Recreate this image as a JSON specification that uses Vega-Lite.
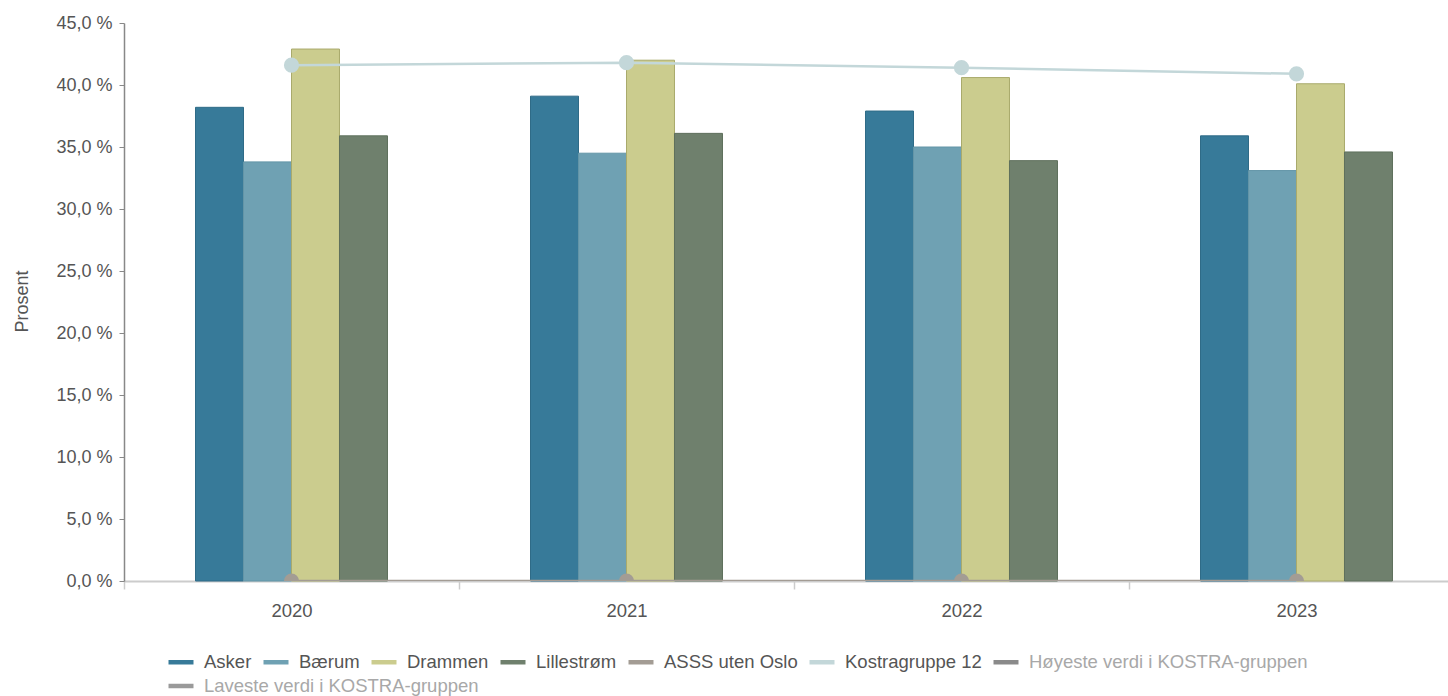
{
  "$schema": "https://vega.github.io/schema/vega-lite/v6.json",
  "autosize": {"type": "none"},
  "padding": {"left": 124, "top": 23, "right": 0, "bottom": 115},
  "width": 1324,
  "height": 558,
  "config": {
    "view": {"stroke": null},
    "font": "Liberation Sans",
    "axis": {"labelFont": "Liberation Sans", "titleFont": "Liberation Sans", "grid": false},
    "legend": {"labelFont": "Liberation Sans"}
  },
  "data": {
    "values": [
      {"year": "2020", "series": "Asker", "value": 38.2},
      {"year": "2020", "series": "Bærum", "value": 33.8},
      {"year": "2020", "series": "Drammen", "value": 42.9},
      {"year": "2020", "series": "Lillestrøm", "value": 35.9},
      {"year": "2020", "series": "ASSS uten Oslo", "value": 0},
      {"year": "2020", "series": "Kostragruppe 12", "value": 41.6},
      {"year": "2021", "series": "Asker", "value": 39.1},
      {"year": "2021", "series": "Bærum", "value": 34.5},
      {"year": "2021", "series": "Drammen", "value": 42.0},
      {"year": "2021", "series": "Lillestrøm", "value": 36.1},
      {"year": "2021", "series": "ASSS uten Oslo", "value": 0},
      {"year": "2021", "series": "Kostragruppe 12", "value": 41.8},
      {"year": "2022", "series": "Asker", "value": 37.9},
      {"year": "2022", "series": "Bærum", "value": 35.0},
      {"year": "2022", "series": "Drammen", "value": 40.6},
      {"year": "2022", "series": "Lillestrøm", "value": 33.9},
      {"year": "2022", "series": "ASSS uten Oslo", "value": 0},
      {"year": "2022", "series": "Kostragruppe 12", "value": 41.4},
      {"year": "2023", "series": "Asker", "value": 35.9},
      {"year": "2023", "series": "Bærum", "value": 33.1},
      {"year": "2023", "series": "Drammen", "value": 40.1},
      {"year": "2023", "series": "Lillestrøm", "value": 34.6},
      {"year": "2023", "series": "ASSS uten Oslo", "value": 0},
      {"year": "2023", "series": "Kostragruppe 12", "value": 40.9}
    ]
  },
  "encoding": {
    "x": {
      "field": "year",
      "type": "nominal",
      "scale": {"range": [0, 1340], "paddingInner": 0.4269, "paddingOuter": 0.21345},
      "axis": {
        "title": null,
        "labelAngle": 0,
        "labelFontSize": 18.5,
        "labelColor": "#555555",
        "labelPadding": 12,
        "domainColor": "#cccccc",
        "domainWidth": 2,
        "tickColor": "#cccccc",
        "tickWidth": 1.5,
        "tickSize": 8,
        "tickOffset": -167.5,
        "labelOffset": 167.5
      }
    },
    "y": {
      "field": "value",
      "type": "quantitative",
      "scale": {"domain": [0, 45], "nice": false},
      "axis": {
        "values": [0, 5, 10, 15, 20, 25, 30, 35, 40, 45],
        "labelExpr": "replace(format(datum.value, '.1f'), '.', ',') + ' %'",
        "labelFontSize": 18,
        "labelColor": "#555555",
        "labelPadding": 7,
        "domainColor": "#888888",
        "domainWidth": 1.5,
        "tickColor": "#888888",
        "tickSize": 5,
        "title": "Prosent",
        "titleFontSize": 18,
        "titleFontWeight": "normal",
        "titleColor": "#555555",
        "titleX": -102,
        "titleY": 278,
        "titleBaseline": "middle",
        "titleAngle": -90
      }
    }
  },
  "layer": [
    {
      "transform": [{"filter": "indexof(['Asker','Bærum','Drammen','Lillestrøm'], datum.series) >= 0"}],
      "mark": {"type": "bar", "strokeWidth": 1},
      "encoding": {
        "xOffset": {
          "field": "series",
          "type": "nominal",
          "scale": {"domain": ["Asker", "Bærum", "Drammen", "Lillestrøm"], "paddingInner": 0, "paddingOuter": 0}
        },
        "color": {
          "field": "series",
          "type": "nominal",
          "scale": {
            "domain": ["Asker", "Bærum", "Drammen", "Lillestrøm", "ASSS uten Oslo", "Kostragruppe 12", "Høyeste verdi i KOSTRA-gruppen"],
            "range": ["#377a99", "#6fa1b3", "#cbcc8e", "#6f806d", "#a39c94", "#c3d7d9", "#8a8a8a"]
          },
          "legend": {
            "title": null,
            "orient": "none",
            "legendX": 42,
            "legendY": 624,
            "direction": "horizontal",
            "symbolType": "stroke",
            "symbolSize": 625,
            "symbolStrokeWidth": 4.5,
            "labelFontSize": 18.5,
            "labelColor": "#555555",
            "labelOffset": 8,
            "columnPadding": 2,
            "labelLimit": 400,
            "encode": {
              "symbols": {"update": {"stroke": {"scale": "color", "field": "value"}, "shape": {"value": "stroke"}, "strokeWidth": {"value": 4.5}}},
              "labels": {"update": {"fill": {"signal": "datum.label == 'Høyeste verdi i KOSTRA-gruppen' ? '#a8a8a8' : '#555555'"}}}
            }
          }
        },
        "stroke": {
          "field": "series",
          "type": "nominal",
          "scale": {"domain": ["Asker", "Bærum", "Drammen", "Lillestrøm"], "range": ["#2f6b87", "#6395a7", "#a9aa6c", "#5f705d"]},
          "legend": null
        }
      }
    },
    {
      "transform": [{"filter": "indexof(['ASSS uten Oslo','Kostragruppe 12'], datum.series) >= 0"}],
      "mark": {"type": "line", "strokeWidth": 2.5, "clip": true},
      "encoding": {
        "color": {"field": "series", "type": "nominal"}
      }
    },
    {
      "transform": [{"filter": "indexof(['ASSS uten Oslo','Kostragruppe 12'], datum.series) >= 0"}],
      "mark": {"type": "point", "filled": true, "size": 230, "opacity": 1, "clip": true},
      "encoding": {
        "color": {"field": "series", "type": "nominal"}
      }
    },
    {
      "transform": [{"filter": "datum.series == 'Laveste verdi i KOSTRA-gruppen'"}],
      "mark": {"type": "point", "filled": false, "opacity": 1},
      "encoding": {
        "shape": {
          "field": "series",
          "type": "nominal",
          "scale": {"domain": ["Laveste verdi i KOSTRA-gruppen"], "range": ["stroke"]},
          "legend": {
            "title": null,
            "orient": "none",
            "legendX": 42,
            "legendY": 648,
            "direction": "horizontal",
            "symbolType": "stroke",
            "symbolSize": 625,
            "symbolStrokeWidth": 4.5,
            "symbolStrokeColor": "#9a9a9a",
            "symbolOpacity": 1,
            "labelFontSize": 18.5,
            "labelColor": "#a8a8a8",
            "labelOffset": 8,
            "labelLimit": 400,
            "encode": {
              "symbols": {"update": {"stroke": {"value": "#9a9a9a"}, "strokeOpacity": {"value": 1}, "opacity": {"value": 1}, "shape": {"value": "stroke"}, "strokeWidth": {"value": 4.5}}}
            }
          }
        }
      }
    }
  ]
}
